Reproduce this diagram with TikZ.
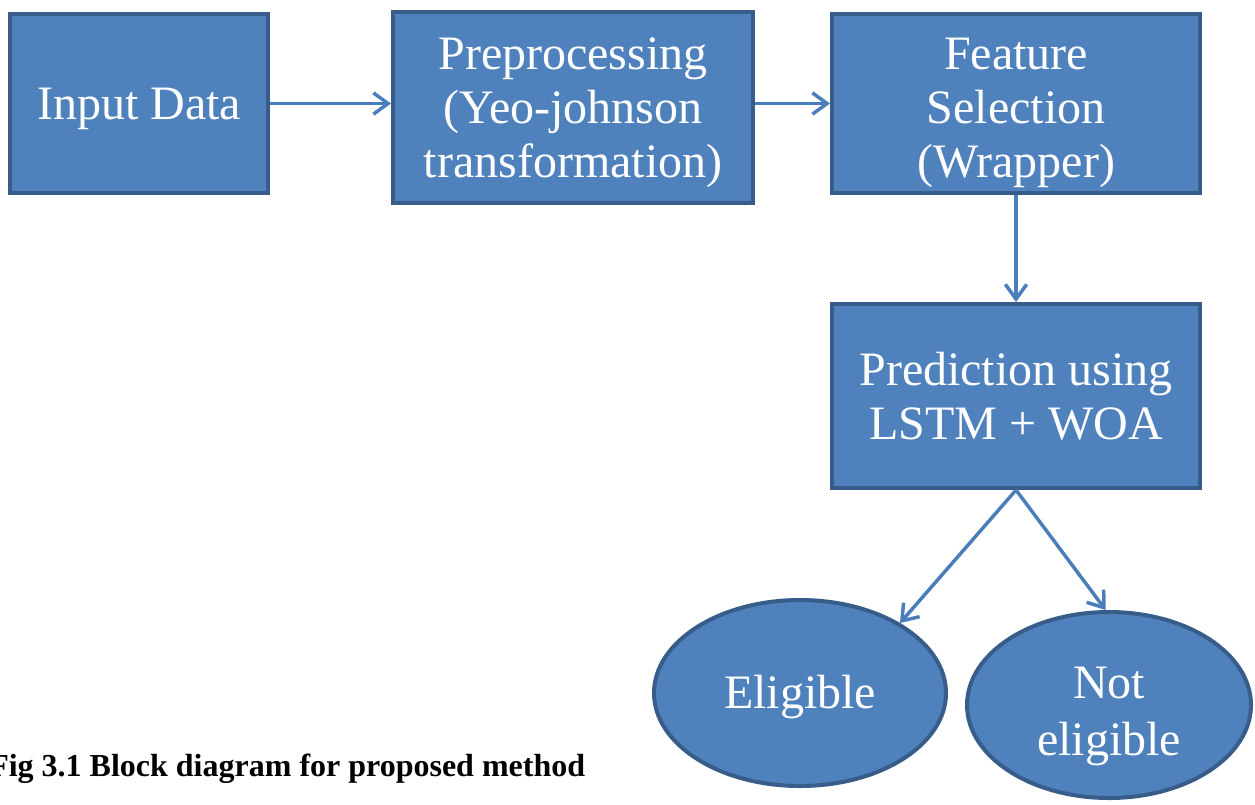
\documentclass[tikz,border=0pt]{standalone}
\usepackage{fontspec}
\setmainfont{Liberation Serif}
\usepackage{xcolor}
\definecolor{bfill}{HTML}{4F81BD}
\definecolor{bdark}{HTML}{385D8A}
\definecolor{aline}{HTML}{4A7EBB}
\usetikzlibrary{arrows.meta,positioning,shapes.geometric}
% invisible strut on the first line, pushes the text down a little
\newcommand{\dropline}[1]{\rule{0pt}{#1}}

\begin{document}
\begin{tikzpicture}[
  x=0.75pt, y=-0.75pt, >={Straight Barb[length=11pt,width=16pt]},
  block/.style={rectangle, draw=bdark, fill=bfill, line width=3pt, text=white,
    font=\fontsize{36}{40.5}\selectfont, align=center, inner sep=0pt},
  outcome/.style={ellipse, draw=bdark, fill=bfill, line width=3pt, text=white,
    font=\fontsize{36}{42.75}\selectfont, align=center, inner sep=0pt,
    minimum width=216pt, minimum height=139.5pt},
  link/.style={->, draw=aline, line width=2.6pt},
  caption/.style={font=\fontsize{24}{28}\selectfont\bfseries, inner sep=0pt},
]
  \useasboundingbox (0,0) rectangle (1255,804);
  \node[block, minimum width=193.5pt, minimum height=134.25pt] (input) at (139,103.5)
    {\dropline{31pt}Input Data};
  \node[block, minimum width=270pt, minimum height=143.25pt, right=90.75pt of input, yshift=-3pt] (prep)
    {\dropline{32pt}Preprocessing\\(Yeo-johnson\\transformation)};
  \node[block, minimum width=276pt, minimum height=134.25pt, right=56.25pt of prep, yshift=3pt] (feat)
    {\dropline{37.5pt}Feature\\Selection\\(Wrapper)};
  \node[block, minimum width=276pt, minimum height=138pt, below=80.25pt of feat] (pred)
    {\dropline{26pt}Prediction using\\LSTM + WOA};
  \node[outcome, minimum width=219pt, below=81pt of pred, xshift=-162pt] (elig)
    {\dropline{31pt}Eligible};
  \node[outcome, minimum width=213pt, right=12.75pt of elig, yshift=-9pt] (noteli)
    {\dropline{40pt}Not\\eligible};
  \node[caption, anchor=base west] (cap) at (-11,776) {Fig 3.1 Block diagram for proposed method};

  \draw[link] (input.east) -- (input.east -| prep.west);
  \draw[link] (prep.east |- feat.west) -- (feat.west);
  \draw[link] (feat) -- (pred);
  \draw[link] (pred.south) -- (elig.35);
  \draw[link] (pred.south) -- (noteli.92);
\end{tikzpicture}
\end{document}
